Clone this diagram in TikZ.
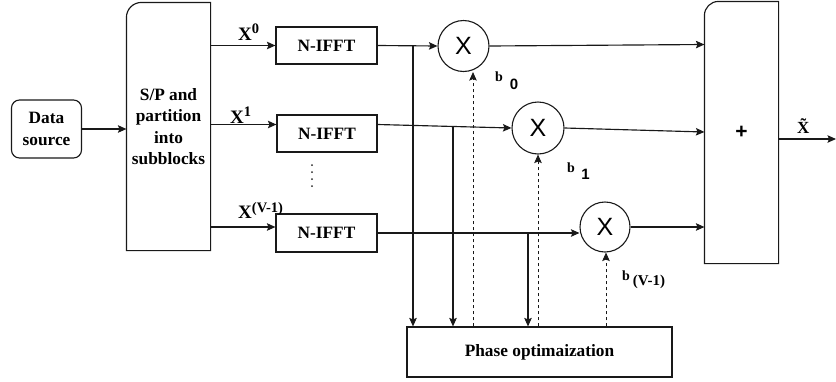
\documentclass[tikz,border=0pt]{standalone}
\usepackage{fontspec}
\setmainfont{Liberation Serif}
\newfontfamily\hv{Liberation Sans}
\usetikzlibrary{arrows.meta,calc}

\tikzset{
  ln/.style={line width=1.15pt, draw=black!90},
  arr/.style={ln, -{Stealth[length=8.5pt,width=7.5pt,inset=1.5pt]}},
  darr/.style={arr, line width=0.95pt, dash pattern=on 3pt off 3pt},
  blk/.style={draw=black!90, line width=1.15pt, rectangle, inner sep=0pt,
              font=\fontsize{17.3}{21.5}\selectfont\bfseries, align=center},
  mul/.style={draw=black!90, line width=1.1pt, circle, inner sep=0pt,
              font=\hv\fontsize{25}{25}\selectfont},
  lbl/.style={inner sep=0pt, anchor=base west},
  xlbl/.style={lbl, font=\fontsize{19}{19}\selectfont\bfseries},
  blbl/.style={lbl, font=\fontsize{14}{14}\selectfont\bfseries},
}
\newcommand{\supx}[2]{\raisebox{#1}{\fontsize{14.5}{14.5}\selectfont #2}}
\newcommand{\subb}[2]{\raisebox{-#1}{#2}}

\begin{document}
\begin{tikzpicture}[x=1pt,y=-1pt]
\useasboundingbox (0,0) rectangle (836,381);

% source and serial-to-parallel split
\node[blk, rounded corners=8pt, minimum width=70, minimum height=58] (ds) at (46.5,129) {Data\\source};
\node[blk, draw=none, minimum width=83, minimum height=247] (sp) at (168.5,126.5) {S/P and\\partition\\into\\subblocks};
\draw[ln] (sp.south west) -- ([yshift=-15pt]sp.north west)
  arc[start angle=180, end angle=90, radius=15pt] -- (sp.north east) -- (sp.south east) -- cycle;

% IFFT blocks
\node[blk, minimum width=101, minimum height=37] (f1) at (326.5,45.5) {N-IFFT};
\node[blk, minimum width=100, minimum height=37] (f2) at (327,133.5) {N-IFFT};
\node[blk, minimum width=101, minimum height=38] (f3) at (326.5,233) {N-IFFT};
\foreach \yy in {165,172,179,186} \fill[black!85] (312,\yy) circle (1pt);

% multipliers
\node[mul, minimum size=51] (c1) at (463.5,46) {X};
\node[mul, minimum size=52] (c2) at (538,128) {X};
\node[mul, minimum size=50] (c3) at (605,227) {X};

% phase optimisation and summation
\node[blk, minimum width=265, minimum height=50] (po) at (539.5,352) {Phase optimaization};
\node[blk, draw=none, minimum width=73, minimum height=261,
      font=\hv\bfseries\fontsize{21}{21}\selectfont, text depth=0pt,
      yshift=3pt] (pl) at (741.5,135.5) {+};
\draw[ln] (pl.south west) -- ([yshift=-14pt]pl.north west)
  arc[start angle=180, end angle=90, radius=14pt] -- (pl.north east) -- (pl.south east) -- cycle;

% branch rows
\coordinate (r2) at (0,124.5);
\draw[arr] (ds.east) -- (ds.east -| sp.west);
\draw[arr] (sp.east |- f1.west) -- (f1.west);
\draw[arr] (sp.east |- r2) -- (f2.west |- r2);
\draw[arr] (sp.east |- c3) -- (f3.west |- c3);

\draw[arr] (f1.east) -- (c1.west);
\draw[arr] (f2.east |- r2) -- (c2.west);
\draw[arr] (f3.east) -- (f3.east -| c3.west);

% taps into the phase optimiser
\coordinate (t1) at (413,45.5);
\coordinate (t2) at (453,126);
\coordinate (t3) at (528,233);
\draw[arr] (t1) -- (t1 |- po.north);
\draw[arr] (t2) -- (t2 |- po.north);
\draw[arr] (t3) -- (t3 |- po.north);

% phase factors back to the multipliers
\coordinate (d1) at (473,0);
\coordinate (d2) at (538,0);
\coordinate (d3) at (606,0);
\draw[darr] (d1 |- po.north) -- (d1 |- c1.south);
\draw[darr] (d2 |- po.north) -- (d2 |- c2.south);
\draw[darr] (d3 |- po.north) -- (d3 |- c3.south);

% into the adder and out
\coordinate (o1) at (0,44.5);
\coordinate (o2) at (0,132);
\coordinate (o3) at (0,227);
\coordinate (o4) at (0,139);
\draw[arr] (c1.east) -- (o1 -| pl.west);
\draw[arr] (c2.east) -- (o2 -| pl.west);
\draw[arr] (c3.east) -- (o3 -| pl.west);
\coordinate (out) at (836,0);
\draw[arr] (o4 -| pl.east) -- (o4 -| out);

% labels
\node[xlbl] (lx0) at (238,40.7) {X\supx{7pt}{0}};
\node[xlbl] (lx1) at (230,123) {X\supx{7pt}{1}};
\node[xlbl] (lx2) at (238,218) {X\supx{6pt}{(V-1)}};
\node[blbl] (lb0) at (495,81) {b\hspace{7pt}\subb{8pt}{\hv\fontsize{15}{15}\selectfont 0}};
\node[blbl] (lb1) at (567,172) {b\hspace{6.5pt}\subb{7pt}{\hv\fontsize{15}{15}\selectfont 1}};
\node[blbl] (lb2) at (622,280) {b\hspace{3pt}\subb{5pt}{\fontsize{15}{15}\selectfont (V-1)}};
\node[lbl, font=\fontsize{17}{17}\selectfont\bfseries] (lxt) at (797,133) {\~{X}};
\end{tikzpicture}
\end{document}
